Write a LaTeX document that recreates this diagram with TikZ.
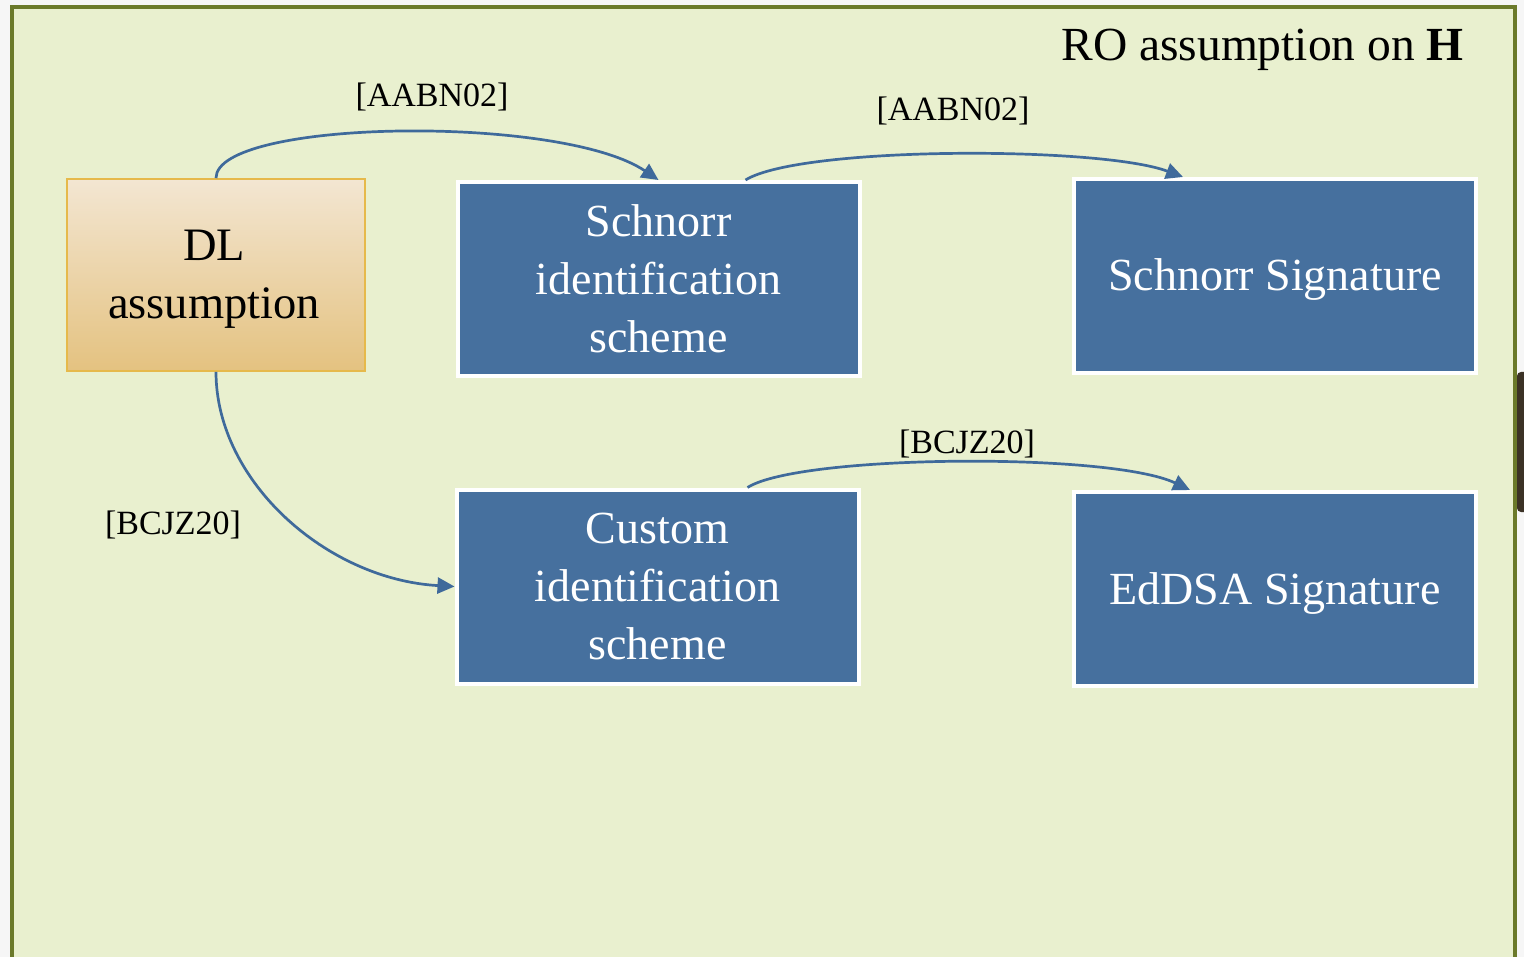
\documentclass[tikz,border=0pt]{standalone}
\usepackage{fontspec}
\setmainfont{Liberation Serif}
\usetikzlibrary{arrows.meta,calc}
\definecolor{pagebg}{RGB}{246,246,246}
\definecolor{panelbg}{RGB}{233,240,207}
\definecolor{panelframe}{RGB}{107,122,42}
\definecolor{boxblue}{RGB}{70,112,158}
\definecolor{linkblue}{RGB}{63,106,155}
\definecolor{dltop}{RGB}{243,230,210}
\definecolor{dlbot}{RGB}{228,194,128}
\definecolor{dlframe}{RGB}{230,185,75}
\definecolor{knob}{RGB}{60,50,38}
\tikzset{
  bluebox/.style={draw=white, line width=4pt, fill=boxblue, inner sep=0pt,
    minimum width=402pt, minimum height=194pt, text=white, align=center,
    font=\fontsize{46}{58}\selectfont},
  dlbox/.style={draw=dlframe, line width=1.8pt, top color=dltop, bottom color=dlbot,
    shading angle=0, inner sep=0pt, minimum width=298pt, minimum height=192pt},
  link/.style={draw=linkblue, line width=2.7pt, -{Triangle[length=17pt,width=16pt]}},
  cite/.style={font=\fontsize{34}{40}\selectfont, inner sep=0pt},
}
\begin{document}
\begin{tikzpicture}[x=1pt,y=1pt]
\useasboundingbox (0,0) rectangle (1524,-957);
\clip (0,0) rectangle (1524,-957);
\fill[pagebg] (0,0) rectangle (1524,-957);
\draw[fill=panelbg, draw=panelframe, line width=3.5pt] (12,-7) rectangle (1515,-980);
\fill[knob, rounded corners=4pt] (1517,-372) rectangle (1532,-512);

\node[anchor=base east, font=\fontsize{47.5}{50}\selectfont, inner sep=0pt] (title) at (1464,-61) {RO assumption on \textbf{H}};

\node[dlbox] (dl) at (216,-275) {};
\node[font=\fontsize{46.5}{58}\selectfont, align=center, inner sep=0pt] (dltext) at (214,-279) {DL\\assumption};
\node[bluebox] (sid) at (658.5,-279) {Schnorr\\identification\\scheme};
\node[bluebox] (ssig) at (1275,-276) {\raisebox{-15pt}[0pt][0pt]{Schnorr Signature}};
\node[bluebox] (cid) at (657.5,-586.5) {Custom\\identification\\scheme};
\node[bluebox] (eddsa) at (1275,-589) {\raisebox{-15pt}[0pt][0pt]{EdDSA Signature}};

\coordinate (s1) at ($(sid.north)+(87,0)$);
\coordinate (e1) at ($(ssig.north)+(-92,0)$);
\coordinate (s2) at ($(cid.north)+(90,0)$);
\coordinate (e2) at ($(eddsa.north)+(-85,0)$);

\path[link] (dl.north) .. controls +(0,59) and +(-98,66) .. (sid.north);
\path[link] (s1) .. controls +(55,34) and +(-83,31) .. (e1);
\path[link] (dl.south) .. controls +(0,-110) and +(-127,7) .. (cid.west);
\path[link] (s2) .. controls +(52,33) and +(-80,38) .. (e2);

\node[cite] (c1) at (432,-97) {[AABN02]};
\node[cite] (c2) at (953,-111) {[AABN02]};
\node[cite] (c3) at (173,-525) {[BCJZ20]};
\node[cite] (c4) at (967,-444) {[BCJZ20]};
\end{tikzpicture}
\end{document}
